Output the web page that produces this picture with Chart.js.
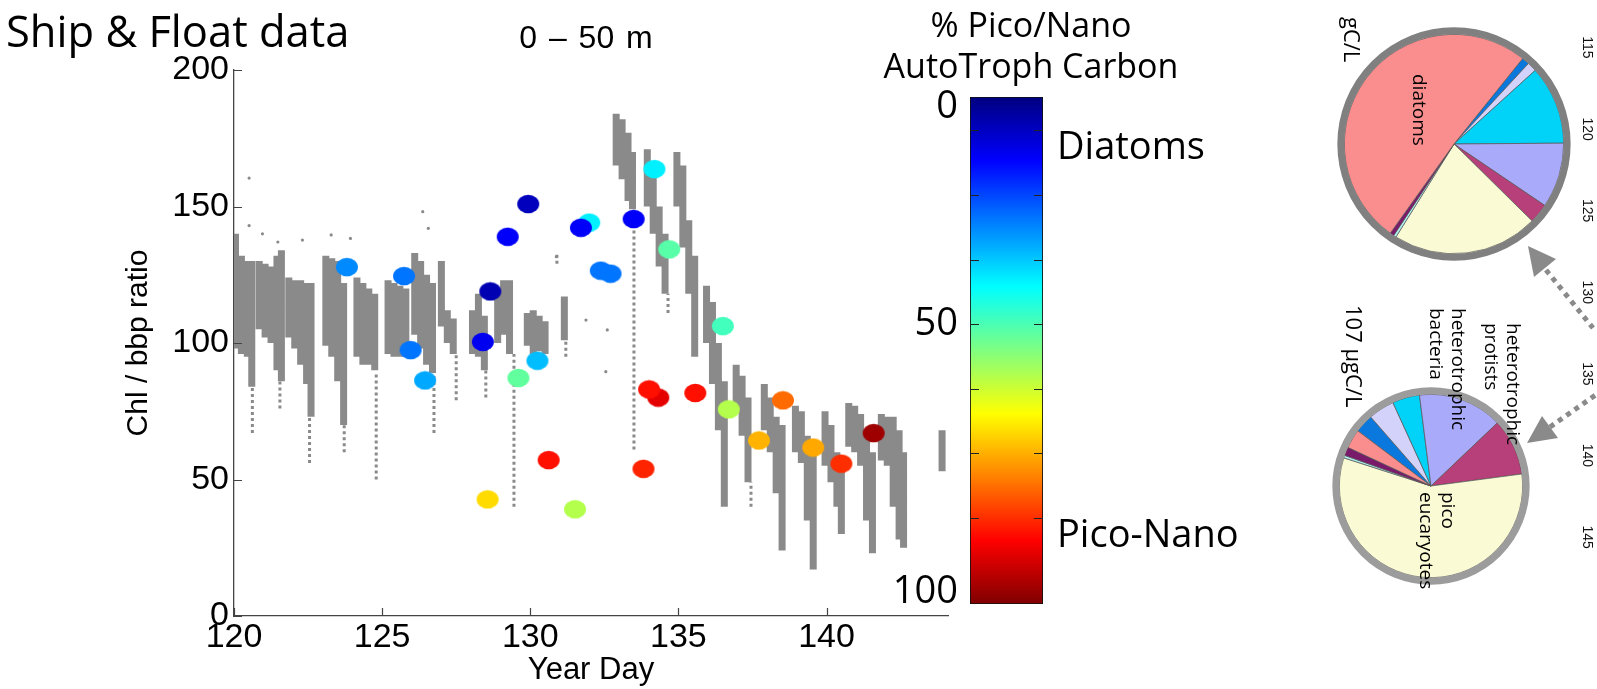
<!DOCTYPE html>
<html>
<head>
<meta charset="utf-8">
<script src="https://cdn.jsdelivr.net/npm/chart.js@4.4.1/dist/chart.umd.min.js"></script>
<style>
  html, body { margin: 0; padding: 0; background: #fff; }
  #stage { position: relative; width: 1597px; height: 689px; overflow: hidden; background: #fff; font-family: 'Open Sans', sans-serif; color: #000; }
  #stage canvas { position: absolute; }
  .txt { position: absolute; white-space: pre; }
  .rot { position: absolute; white-space: pre; transform-origin: 0 0; transform: rotate(90deg); font-family: 'Open Sans', sans-serif; }
</style>
</head>
<body>
<div id="stage">
  <canvas id="main" width="960" height="689" style="left:0;top:0"></canvas>
  <canvas id="cbar" width="250" height="689" style="left:850px;top:0"></canvas>
  <canvas id="pieTop" width="260" height="260" style="left:1323.5px;top:14px"></canvas>
  <canvas id="pieBottom" width="220" height="220" style="left:1321px;top:376px"></canvas>
  <div style="position:absolute;left:1600.7px;top:0;width:689px;height:30px;transform-origin:0 0;transform:rotate(90deg)">
    <canvas id="side" width="689" height="30" style="left:0;top:0"></canvas>
  </div>

  <div class="txt" style="left:6px;top:9px;font-size:43.5px;line-height:43.5px">Ship &amp; Float data</div>
  <div class="txt" style="left:436px;top:21px;width:300px;text-align:center;font-family:'Liberation Sans';font-size:32px;line-height:32px;word-spacing:3px">0 – 50 m</div>
  <div class="txt" style="left:831px;top:4px;width:400px;text-align:center;font-size:34px;line-height:40.5px">% Pico/Nano
AutoTroph Carbon</div>
  <div class="txt" style="left:1057px;top:125px;font-size:38px;line-height:38px">Diatoms</div>
  <div class="txt" style="left:1057px;top:513px;font-size:38px;line-height:38px">Pico-Nano</div>

  <div class="rot" style="left:1363.8px;top:17px;font-size:22px;line-height:22px">gC/L</div>
  <div class="rot" style="left:1429.4px;top:74px;font-size:19px;line-height:19px">diatoms</div>
  <div class="rot" style="left:1365.8px;top:305px;font-size:22px;line-height:22px">107 µgC/L</div>
  <div class="rot" style="left:1523.7px;top:323px;font-size:19px;line-height:21.5px">heterotrophic
protists</div>
  <div class="rot" style="left:1468.7px;top:308px;font-size:19px;line-height:21.5px">heterotrophic
bacteria</div>
  <div class="rot" style="left:1459px;top:492px;font-size:19px;line-height:21.5px">pico
eucaryotes</div>

  <svg style="position:absolute;left:0;top:0" width="1597" height="689">
    <g stroke="#8a8a8a" stroke-width="5" stroke-dasharray="5 5" fill="none">
      <line x1="1546" y1="270" x2="1593" y2="328"/>
      <line x1="1550" y1="427" x2="1597" y2="394"/>
    </g>
    <g fill="#8a8a8a">
      <polygon points="1528,246 1534,277 1556,259"/>
      <polygon points="1527,443 1558,438 1542,416"/>
    </g>
  </svg>
</div>

<script>
// ── ship samples (coloured markers) ──
const shipDay   = [123.81, 125.74, 125.96, 126.45, 128.65, 128.40, 129.24, 129.93, 129.60, 130.24, 130.62, 128.56, 131.51, 131.99, 131.71, 132.38, 132.71, 133.49, 134.19, 134.69, 134.32, 134.01, 135.57, 133.82, 136.50, 136.70, 137.72, 138.53, 139.55, 140.50, 141.59];
const shipRatio = [127.8, 124.5, 97.4, 86.3, 118.9, 100.4, 138.9, 150.9, 87.2, 93.5, 57.1, 42.7, 39.1, 144.1, 142.2, 126.5, 125.4, 145.4, 163.7, 134.3, 80.0, 83.0, 81.7, 53.9, 106.2, 75.7, 64.3, 79.0, 61.7, 55.8, 67.0];
const shipPico  = [26, 24, 24, 29, 5, 11, 12, 6, 47, 31, 86, 66, 55, 36, 12, 24, 24, 12, 36, 46, 90, 86, 86, 84, 44, 55, 70, 77, 71, 83, 97];

// ── float profiles: dense core per time bin ──
const floatDay = [120.05, 120.25, 120.45, 120.6, 120.85, 121.05, 121.25, 121.45, 121.6, 121.85, 122.05, 122.25, 122.45, 122.6,
  123.1, 123.3, 123.5, 123.7, 124.15, 124.35, 124.55, 124.75, 125.2, 125.4, 125.6, 125.8, 126.1, 126.3, 126.5, 126.7,
  127.0, 127.2, 127.4, 128.05, 128.25, 128.45, 128.9, 129.1, 129.3, 129.9, 130.1, 130.3, 130.5, 131.15,
  132.9, 133.1, 133.3, 133.45, 133.95, 134.15, 134.35, 134.55, 134.95, 135.15, 135.35, 135.55,
  135.95, 136.15, 136.35, 136.55, 136.95, 137.15, 137.35, 137.9, 138.1, 138.3, 138.5,
  138.95, 139.15, 139.35, 139.55, 139.95, 140.15, 140.35, 140.5, 140.75, 140.95, 141.15, 141.35, 141.55,
  141.85, 142.05, 142.25, 142.45, 142.6, 143.9];
const floatLo = [98, 96, 95, 84, 105, 102, 100, 90, 86, 102, 98, 92, 85, 73,
  99, 95, 86, 70, 95, 92, 92, 90, 96, 95, 95, 96, 103, 98, 92, 89,
  106, 100, 96, 96, 95, 90, 100, 103, 96, 99, 96, 97, 96, 101,
  165, 160, 152, 149, 150, 140, 128, 118, 150, 135, 118, 95,
  100, 85, 68, 40, 75, 66, 49, 68, 60, 45, 24,
  60, 56, 35, 17, 55, 49, 40, 30, 62, 60, 55, 35, 23,
  57, 55, 40, 28, 25, 53];
const floatHi = [140, 132, 130, 130, 130, 129, 128, 132, 134, 124, 123, 123, 122, 122,
  132, 131, 130, 122, 124, 122, 120, 118, 123, 122, 121, 120, 133, 130, 125, 122,
  130, 112, 109, 112, 118, 110, 118, 123, 123, 111, 112, 110, 108, 117,
  184, 182, 177, 170, 171, 165, 150, 140, 170, 165, 145, 132,
  121, 115, 100, 86, 92, 88, 80, 85, 80, 73, 70,
  77, 75, 66, 60, 75, 70, 60, 55, 78, 77, 74, 66, 60,
  74, 73, 73, 68, 60, 68];

// ── float profiles: sparse tails ──
const tailDay = [120.62, 121.55, 122.55, 123.72, 124.8, 126.75, 127.5, 128.5, 129.45, 130.9, 131.2, 133.5, 134.65, 137.45];
const tailLo  = [67, 76, 56, 60, 50, 67, 79, 80, 40, 129, 95, 61, 111, 40];
const tailHi  = [84, 86, 73, 70, 89, 89, 96, 90, 96, 133, 101, 149, 118, 49];

// ── isolated float points ──
const strayDay   = [120.51, 120.51, 120.96, 121.48, 122.31, 123.28, 123.93, 126.37, 126.56, 130.88, 131.88, 132.60, 132.55];
const strayRatio = [160.4, 143, 140, 137, 137.7, 139.6, 138.3, 148.1, 142, 131.6, 108.4, 104.8, 89.5];

const xTicks = [120, 125, 130, 135, 140];
const yTicks = [0, 50, 100, 150, 200];

// ── colour bar ──
const cbarLabels = ['0', '50', '100'];
const cbarLabelAt = [2, 44.9, 97.6];
const cbarTicks = [6.6, 19.4, 32.1, 44.8, 57.6, 70.3, 83.1];

// ── carbon pies (clockwise order) ──
const pieGroups = ['flagellates', 'ciliates', 'dinoflagellates', 'heterotrophic bacteria', 'heterotrophic protists',
  'pico eucaryotes', 'synechococcus', 'coccolithophores', 'diatoms'];
const pieColors = ['#0A78DC', '#D2D2FA', '#00D2F8', '#AAAAFA', '#B8407A', '#FAFAD4', '#B0F0F0', '#7A1A6A', '#FA8E8E'];
const pieTopShare    = [1.1, 1.4, 11.6, 9.6, 2.9, 21.5, 0.4, 0.6, 50.9];
const pieBottomShare = [3.3, 4.6, 4.8, 14.9, 10.0, 57.0, 0.45, 1.5, 3.35];

const sideTicks = [115, 120, 125, 130, 135, 140, 145];

Chart.defaults.font.family = "'Liberation Sans', Arial, sans-serif";
Chart.defaults.color = '#000';

const FLOAT_GREY = '#8a8a8a';

function jet(t) {
  const c = v => Math.round(255 * Math.max(0, Math.min(1, v)));
  return `rgb(${c(Math.min(4 * t - 1.5, -4 * t + 4.5))},${c(Math.min(4 * t - 0.5, -4 * t + 3.5))},${c(Math.min(4 * t + 0.5, -4 * t + 2.5))})`;
}

function ellipseMarker(color) {
  const cv = document.createElement('canvas');
  cv.width = 24; cv.height = 20;
  const g = cv.getContext('2d');
  g.fillStyle = color;
  g.beginPath();
  g.ellipse(12, 10, 11, 9.2, 0, 0, Math.PI * 2);
  g.fill();
  return cv;
}

// each bin / tail becomes a vertical stroke, broken by a null point
function verticalStrokes(days, lo, hi) {
  const pts = [];
  days.forEach((d, i) => {
    pts.push({ x: d, y: lo[i] }, { x: d, y: hi[i] }, { x: d, y: null });
  });
  return pts;
}

// ticks pointing into the plot, matlab style
const inwardTicks = {
  id: 'inwardTicks',
  afterDatasetsDraw(chart) {
    const { ctx, chartArea: a, scales: { x, y } } = chart;
    ctx.save();
    ctx.strokeStyle = '#444';
    ctx.lineWidth = 1.2;
    ctx.beginPath();
    xTicks.forEach(v => {
      const px = Math.round(x.getPixelForValue(v)) + 0.5;
      ctx.moveTo(px, a.bottom); ctx.lineTo(px, a.bottom - 8);
    });
    yTicks.forEach(v => {
      const py = Math.round(y.getPixelForValue(v)) + 0.5;
      ctx.moveTo(a.left, py); ctx.lineTo(a.left + 8, py);
    });
    ctx.stroke();
    ctx.restore();
  }
};

new Chart(document.getElementById('main'), {
  type: 'scatter',
  data: {
    datasets: [
      {
        label: 'ship',
        data: shipDay.map((d, i) => ({ x: d, y: shipRatio[i] })),
        pointStyle: shipPico.map(p => ellipseMarker(jet(p / 100))),
        pointRadius: 11,
        order: 0,
      },
      {
        label: 'float stray',
        data: strayDay.map((d, i) => ({ x: d, y: strayRatio[i] })),
        pointRadius: 1.6,
        backgroundColor: FLOAT_GREY,
        borderWidth: 0,
        order: 1,
      },
      {
        type: 'line',
        label: 'float core',
        data: verticalStrokes(floatDay, floatLo, floatHi),
        borderColor: FLOAT_GREY,
        borderWidth: 7,
        borderCapStyle: 'butt',
        pointRadius: 0,
        spanGaps: false,
        fill: false,
        order: 2,
      },
      {
        type: 'line',
        label: 'float tails',
        data: verticalStrokes(tailDay, tailLo, tailHi),
        borderColor: FLOAT_GREY,
        borderWidth: 3,
        borderDash: [3, 3],
        borderCapStyle: 'butt',
        pointRadius: 0,
        spanGaps: false,
        fill: false,
        order: 3,
      },
    ],
  },
  options: {
    responsive: false,
    animation: false,
    layout: { padding: { top: 70, right: 8, left: 0, bottom: 0 } },
    plugins: { legend: { display: false }, tooltip: { enabled: false } },
    scales: {
      x: {
        type: 'linear', min: 120, max: 144.1, offset: false,
        afterBuildTicks: s => { s.ticks = xTicks.map(v => ({ value: v })); },
        afterFit: s => { s.height = 73; },
        grid: { display: false, drawTicks: false },
        border: { display: true, color: '#444', width: 1.3 },
        ticks: { font: { size: 34 }, color: '#000', padding: 1 },
        title: { display: true, text: 'Year Day', font: { size: 31 }, color: '#000', padding: { top: 0, bottom: 0 } },
      },
      y: {
        type: 'linear', min: 0, max: 200,
        afterBuildTicks: s => { s.ticks = yTicks.map(v => ({ value: v })); },
        afterFit: s => { s.width = 234; },
        grid: { display: false, drawTicks: false },
        border: { display: true, color: '#444', width: 1.3 },
        ticks: { font: { size: 34 }, color: '#000', padding: 5 },
        title: { display: true, text: 'Chl / bbp ratio', font: { size: 30 }, color: '#000', padding: { top: 121, bottom: 0 } },
      },
    },
  },
  plugins: [inwardTicks],
});

// ── colour bar ──
const cbarTickMarks = {
  id: 'cbarTickMarks',
  afterDatasetsDraw(chart) {
    const { ctx, chartArea: a, scales: { y } } = chart;
    ctx.save();
    ctx.strokeStyle = '#222';
    ctx.lineWidth = 1;
    ctx.beginPath();
    cbarTicks.forEach(v => {
      const py = Math.round(y.getPixelForValue(v)) + 0.5;
      ctx.moveTo(a.left, py); ctx.lineTo(a.left + 9, py);
      ctx.moveTo(a.right - 9, py); ctx.lineTo(a.right, py);
    });
    ctx.stroke();
    ctx.restore();
  }
};

new Chart(document.getElementById('cbar'), {
  type: 'bar',
  data: {
    labels: ['pico/nano'],
    datasets: [{
      data: [[0, 100]],
      backgroundColor: (context) => {
        const { ctx, chartArea } = context.chart;
        if (!chartArea) return '#888';
        const grad = ctx.createLinearGradient(0, chartArea.top, 0, chartArea.bottom);
        for (let k = 0; k <= 32; k++) grad.addColorStop(k / 32, jet(k / 32));
        return grad;
      },
      borderColor: '#111',
      borderWidth: 1.2,
      borderSkipped: false,
      barPercentage: 1,
      categoryPercentage: 1,
    }],
  },
  options: {
    responsive: false,
    animation: false,
    layout: { padding: { top: 97, bottom: 85, left: 0, right: 57 } },
    plugins: { legend: { display: false }, tooltip: { enabled: false } },
    scales: {
      x: { display: false },
      y: {
        min: 0, max: 100, reverse: true,
        afterBuildTicks: s => { s.ticks = cbarLabelAt.map(v => ({ value: v })); },
        afterFit: s => { s.width = 120; },
        grid: { display: false, drawTicks: false },
        border: { display: false },
        ticks: { font: { family: "'Open Sans'", size: 38 }, color: '#000', padding: 12, callback: (v, i) => cbarLabels[i] },
      },
    },
  },
  plugins: [cbarTickMarks],
});

// ── pies with grey rim ──
const rimPlugin = {
  id: 'rim',
  afterDatasetsDraw(chart, args, opts) {
    const arc = chart.getDatasetMeta(0).data[0];
    const { ctx } = chart;
    ctx.save();
    ctx.strokeStyle = opts.color;
    ctx.lineWidth = opts.width;
    ctx.beginPath();
    ctx.arc(arc.x, arc.y, arc.outerRadius + opts.width / 2, 0, Math.PI * 2);
    ctx.stroke();
    ctx.restore();
  }
};

function drawPie(id, shares, rotation, pad, rimColor) {
  new Chart(document.getElementById(id), {
    type: 'pie',
    data: {
      labels: pieGroups,
      datasets: [{ data: shares, backgroundColor: pieColors, borderColor: '#555', borderWidth: 0.7 }],
    },
    options: {
      responsive: false,
      animation: false,
      rotation: rotation,
      layout: { padding: pad },
      plugins: { legend: { display: false }, tooltip: { enabled: false }, rim: { color: rimColor, width: 7 } },
    },
    plugins: [rimPlugin],
  });
}

drawPie('pieTop', pieTopShare, 38.8, 20, '#808080');
drawPie('pieBottom', pieBottomShare, 307, 18, '#9c9c9c');

// ── side day axis (rotated) ──
new Chart(document.getElementById('side'), {
  type: 'scatter',
  data: { datasets: [{ data: [] }] },
  options: {
    responsive: false,
    animation: false,
    layout: { padding: 0 },
    plugins: { legend: { display: false }, tooltip: { enabled: false } },
    scales: {
      x: {
        type: 'linear', position: 'bottom', min: 112.09, max: 154.31,
        afterBuildTicks: s => { s.ticks = sideTicks.map(v => ({ value: v })); },
        afterFit: s => { s.height = 24; },
        grid: { display: false, drawTicks: false },
        border: { display: false },
        ticks: { font: { size: 14 }, color: '#111', padding: 0, maxRotation: 0 },
      },
      y: { display: false },
    },
  },
});
</script>
</body>
</html>
